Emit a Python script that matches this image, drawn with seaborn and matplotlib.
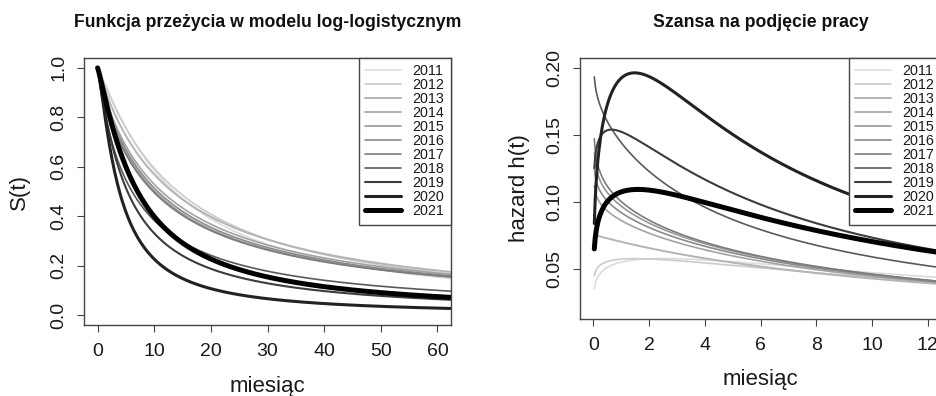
import numpy as np
import pandas as pd
import matplotlib
matplotlib.use("Agg")
import matplotlib.pyplot as plt
import seaborn as sns

# parametry modelu log-logistycznego dla kolejnych lat
years = [2011, 2012, 2013, 2014, 2015, 2016, 2017, 2018, 2019, 2020, 2021]
shape = [1.145, 1.087, 1.00, 0.95, 0.93, 0.94, 0.92, 0.96, 1.10, 1.29, 1.175]
scale = [13.5, 14.2, 13.2, 11.3, 10.1, 10.6, 9.8, 6.08, 5.27, 3.86, 7.05]

line_colors = ["#dcdcdc", "#cbcbcb", "#b4b4b4", "#a2a2a2", "#969696", "#8a8a8a",
               "#7c7c7c", "#5a5a5a", "#3c3c3c", "#222222", "#000000"]
line_widths = [1.2, 1.2, 1.4, 1.2, 1.2, 1.2, 1.2, 1.2, 1.5, 2.2, 3.6]

x_ticks_s = [0, 10, 20, 30, 40, 50, 60]
y_ticks_s = [0.0, 0.2, 0.4, 0.6, 0.8, 1.0]
x_ticks_h = [0, 2, 4, 6, 8, 10, 12]
y_ticks_h = [0.05, 0.10, 0.15, 0.20]

sns.set_theme(style="white")
plt.rcParams['font.family'] = ['Liberation Sans', 'DejaVu Sans']
plt.rcParams['axes.unicode_minus'] = False

# krzywe S(t) i h(t) z modelu log-logistycznego
t_s = np.linspace(0, 63, 400)
t_h = np.linspace(1 / 30, 13, 400)
rows = []
for yr, b, a in zip(years, shape, scale):
    z_s = (t_s / a) ** b
    z_h = (t_h / a) ** b
    h = (b / a) * (t_h / a) ** (b - 1) / (1 + z_h)
    rows.append(pd.DataFrame({"rok": yr, "t": t_s, "S": 1 / (1 + z_s), "th": t_h, "h": h}))
df = pd.concat(rows, ignore_index=True)

W, H = 936, 396
fig = plt.figure(figsize=(W / 100, H / 100), dpi=100)


def px_axes(x0, x1, y0, y1):
    return fig.add_axes([x0 / W, 1 - y1 / H, (x1 - x0) / W, (y1 - y0) / H])


ax1 = px_axes(84, 451, 58, 325)
ax2 = px_axes(580, 941, 57.7, 319.3)

for i, yr in enumerate(years):
    d = df[df["rok"] == yr]
    sns.lineplot(x=d["t"], y=d["S"], ax=ax1, color=line_colors[i], lw=line_widths[i],
                 label=str(yr), sort=False, estimator=None)
    sns.lineplot(x=d["th"], y=d["h"], ax=ax2, color=line_colors[i], lw=line_widths[i],
                 label=str(yr), sort=False, estimator=None)

ax1.set_xlim(-2.4, 62.4)
ax1.set_ylim(-0.04, 1.04)
ax2.set_xlim(-0.48, 12.48)
ax2.set_ylim(0.0128, 0.2074)

ax1.set_xticks(x_ticks_s)
ax1.set_yticks(y_ticks_s)
ax1.set_yticklabels([f"{v:.1f}" for v in y_ticks_s])
ax2.set_xticks(x_ticks_h)
ax2.set_yticks(y_ticks_h)
ax2.set_yticklabels([f"{v:.2f}" for v in y_ticks_h])

panels = [
    (ax1, "Funkcja przeżycia w modelu log-logistycznym", "S(t)", 58, 325, 84, 451, 19, 386.7),
    (ax2, "Szansa na podjęcie pracy", "hazard h(t)", 57.7, 319.3, 580, 941, 519, 380),
]
for ax, title, ylab, top, bot, left, right, ylab_x, xlab_y in panels:
    hgt = bot - top
    wid = right - left
    for s in ax.spines.values():
        s.set_color("#444444")
        s.set_linewidth(1.0)
    ax.tick_params(axis="both", direction="out", length=5, width=0.8, color="#444444",
                   labelsize=14, labelcolor="#1a1a1a", bottom=True, left=True)
    ax.tick_params(axis="x", pad=8)
    ax.tick_params(axis="y", labelrotation=90, pad=7)
    for lab in ax.get_yticklabels():
        lab.set_va("center")
    ax.set_xlabel("miesiąc", fontsize=16, color="#1a1a1a")
    ax.xaxis.set_label_coords(0.5, (bot - xlab_y) / hgt)
    ax.xaxis.label.set_va("center")
    ax.set_ylabel(ylab, fontsize=16, color="#1a1a1a")
    ax.yaxis.set_label_coords((ylab_x - left) / wid, 0.5)
    ax.yaxis.label.set_va("center")
    ax.text(0.5, (bot - 22.5) / hgt, title, transform=ax.transAxes, ha="center", va="center",
            fontsize=12.7, fontweight="bold", color="#111111")
    leg = ax.legend(loc="upper right", borderaxespad=0, fontsize=10.3, frameon=True,
                    fancybox=False, edgecolor="#444444", framealpha=1,
                    handlelength=2.5, handletextpad=0.8, borderpad=0.45, labelspacing=0.0)
    leg.get_frame().set_linewidth(1.0)
    for t in leg.get_texts():
        t.set_color("#1a1a1a")

fig.savefig("out.png", dpi=100, facecolor="white")
